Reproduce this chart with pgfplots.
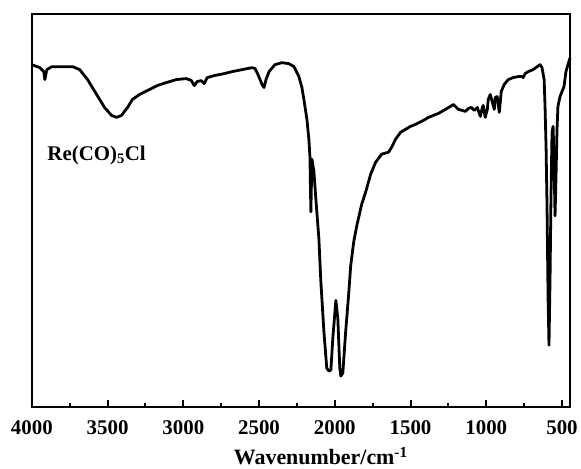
\documentclass[border=0pt]{standalone}
\usepackage{fontspec}
\setmainfont{Liberation Serif}
\usepackage{pgfplots}
\pgfplotsset{compat=1.18}
\begin{document}
\begin{tikzpicture}
    \begin{axis}[
        scale only axis,
        width=541pt,
        height=395pt,
        x dir=reverse,
        xmin=447, xmax=4000,
        ymin=0, ymax=395,
        xtick={500,1000,...,4000},
        minor x tick num=1,
        ytick=\empty,
        xtick pos=bottom,
        tick align=inside,
        major tick length=7pt,
        minor tick length=4pt,
        every tick/.style={black, line width=2pt},
        axis line style={line width=2.2pt},
        /pgf/number format/assume math mode=true,
        xticklabel style={font=\fontsize{21}{24}\selectfont\bfseries, yshift=-10pt},
        /pgf/number format/set thousands separator={},
        xlabel={Wavenumber/cm\textsuperscript{-1}},
        xlabel style={font=\fontsize{22}{26}\selectfont\bfseries, xshift=20pt, yshift=-6pt},
        clip=false,
    ]
        % spectrum
        \addplot[black, line width=2.8pt, line join=round] coordinates {
            (4000,344) (3947,341) (3921,337) (3914,329) (3901,339) (3868,342)
            (3816,342) (3730,342) (3684,339) (3632,329) (3572,314) (3520,301)
            (3474,293) (3441,291) (3408,293) (3368,301) (3336,309) (3289,314)
            (3224,319) (3171,323) (3112,326) (3046,329) (2980,330) (2947,328)
            (2928,323) (2908,327) (2882,328) (2862,325) (2842,331) (2796,333)
            (2730,335) (2678,337) (2612,339) (2546,341) (2526,340) (2507,334)
            (2480,324) (2467,321) (2454,329) (2434,337) (2395,344) (2349,346)
            (2303,345) (2270,342) (2237,332) (2217,321) (2204,309) (2184,289)
            (2171,269) (2164,251) (2158,196) (2151,249) (2138,237) (2125,209)
            (2105,169) (2092,126) (2072,76) (2053,39) (2039,36) (2026,37)
            (2013,69) (1993,107) (1980,89) (1967,39) (1960,31) (1947,34)
            (1928,76) (1908,114) (1895,142) (1875,166) (1855,182) (1822,204)
            (1796,216) (1763,234) (1730,246) (1691,254) (1645,256) (1625,261)
            (1599,269) (1566,276) (1533,279) (1500,282) (1467,284) (1414,288)
            (1382,291) (1316,295) (1270,299) (1237,302) (1217,304) (1197,301)
            (1184,299) (1158,298) (1138,297) (1118,300) (1099,301) (1079,298)
            (1059,301) (1046,295) (1039,292) (1026,301) (1020,303) (1007,291)
            (993,299) (987,309) (974,314) (961,307) (947,299) (941,311)
            (928,312) (914,296) (901,317) (882,324) (855,329) (822,331)
            (789,332) (763,332) (757,331) (743,335) (724,337) (691,339)
            (664,342) (645,344) (632,341) (618,329) (612,302) (605,259)
            (599,202) (592,109) (586,62) (579,129) (573,209) (566,276)
            (559,282) (553,249) (546,192) (540,229) (533,279) (527,302)
            (513,312) (500,317) (487,322) (474,337) (461,344) (447,351)
        };
        \node[anchor=base west, font=\fontsize{21}{24}\selectfont\bfseries]
            at (axis cs:3920,248) {Re(CO)\textsubscript{5}Cl};
    \end{axis}
    \path (-32pt,-61pt) rectangle (549pt,409pt);
\end{tikzpicture}
\end{document}
